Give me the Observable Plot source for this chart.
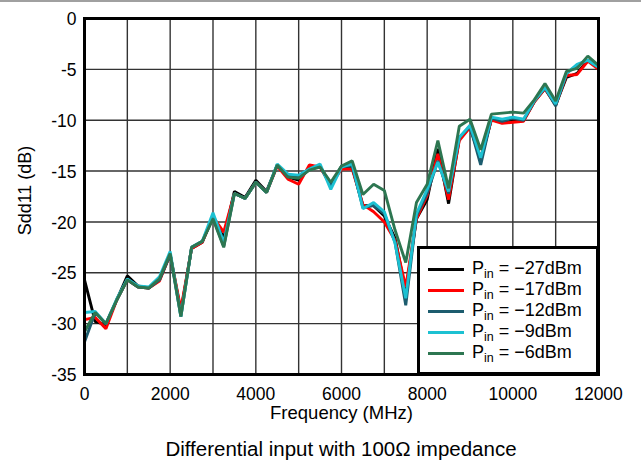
<!DOCTYPE html>
<html><head><meta charset="utf-8">
<script src="https://cdn.jsdelivr.net/npm/d3@7"></script>
<script src="https://cdn.jsdelivr.net/npm/@observablehq/plot@0.6"></script>
<style>
body{margin:0;background:#fff;font-family:"Liberation Sans",Arial,sans-serif;}
#wrap{position:relative;width:641px;height:468px;overflow:hidden;background:#fff;}
#topline{position:absolute;left:0;top:0;width:641px;height:2px;background:#a0a0a0;}
#chart{position:absolute;left:0;top:0;}
#legend{position:absolute;left:417px;top:246px;width:182px;height:129px;box-sizing:border-box;border:3px solid #000;background:#fff;}
.row{position:absolute;left:0;height:20px;}
.swatch{position:absolute;left:8px;width:36px;height:3px;}
.lab{position:absolute;left:52px;font-size:18px;line-height:18px;white-space:nowrap;color:#000;}
.lab sub{font-size:12.5px;vertical-align:-4px;line-height:0;}
#caption{position:absolute;left:84px;width:514px;top:437px;text-align:center;font-size:20.5px;color:#000;}
</style>
</head><body>
<div id="wrap">
  <div id="chart"></div>
  <div id="topline"></div>
  <div id="legend"></div>
  <div id="caption">Differential input with 100Ω impedance</div>
</div>
<script>
// Frequency points (MHz)
const freqMHz = [0,250,500,750,1000,1250,1500,1750,2000,2250,2500,2750,3000,3250,3500,3750,4000,4250,4500,4750,5000,5250,5500,5750,6000,6250,6500,6750,7000,7250,7500,7750,8000,8250,8500,8750,9000,9250,9500,9750,10000,10250,10500,10750,11000,11250,11500,11750,12000];

// Sdd11 (dB) per input power
const pin27 = [-25.7,-29.8,-30.1,-27.7,-25.3,-26.3,-26.5,-25.7,-23.2,-28.8,-22.6,-22.0,-19.4,-21.6,-17.0,-17.6,-15.9,-17.0,-14.4,-15.6,-15.9,-14.7,-14.6,-16.3,-14.6,-14.6,-18.4,-18.4,-19.4,-21.6,-26.9,-19.7,-17.8,-12.8,-18.2,-11.8,-10.7,-13.9,-9.9,-10.1,-10.1,-10.0,-8.2,-6.9,-8.5,-5.8,-5.4,-4.1,-4.9];
const pin17 = [-29.6,-29.4,-30.5,-27.7,-25.7,-26.4,-26.5,-25.8,-23.2,-28.6,-22.6,-22.0,-19.5,-21.0,-17.2,-17.7,-16.1,-17.1,-14.5,-15.8,-16.3,-14.4,-14.6,-16.4,-14.8,-14.8,-18.3,-19.0,-20.0,-21.8,-26.4,-19.7,-17.4,-13.3,-17.8,-12.0,-10.7,-13.7,-10.0,-10.3,-10.2,-10.1,-8.2,-6.9,-8.5,-5.6,-5.5,-4.2,-5.0];
const pin12 = [-31.8,-28.9,-30.0,-27.7,-25.7,-26.4,-26.5,-25.7,-23.2,-29.3,-22.5,-21.9,-19.6,-22.4,-17.2,-17.7,-16.1,-17.1,-14.4,-15.5,-15.6,-14.8,-14.5,-16.5,-14.5,-14.5,-18.6,-18.4,-19.2,-22.0,-28.2,-19.4,-17.2,-14.0,-17.2,-11.7,-10.6,-14.4,-9.8,-10.1,-9.8,-10.0,-8.1,-6.8,-8.6,-5.4,-4.6,-4.1,-4.8];
const pin9  = [-28.9,-28.8,-30.0,-27.6,-25.6,-26.3,-26.4,-25.4,-22.9,-29.3,-22.5,-21.9,-19.1,-22.0,-17.2,-17.7,-16.1,-17.1,-14.3,-15.3,-15.4,-14.8,-14.3,-16.8,-14.6,-14.3,-18.7,-18.1,-19.0,-22.1,-27.5,-19.2,-16.8,-14.1,-17.0,-11.7,-10.5,-13.7,-9.7,-9.9,-9.7,-9.9,-8.1,-6.8,-8.4,-5.4,-4.5,-4.1,-4.8];
const pin6  = [-30.8,-28.9,-30.0,-27.7,-25.7,-26.4,-26.5,-25.6,-23.1,-29.3,-22.5,-21.9,-19.7,-22.5,-17.2,-17.7,-16.1,-17.1,-14.4,-15.6,-15.7,-14.9,-14.6,-16.1,-14.5,-14.0,-17.3,-16.3,-16.9,-20.8,-24.0,-18.1,-16.3,-12.0,-16.7,-10.6,-9.9,-12.9,-9.4,-9.3,-9.2,-9.3,-8.0,-6.4,-8.1,-5.2,-4.9,-3.7,-4.6];

const seriesKeys = ["-27dBm","-17dBm","-12dBm","-9dBm","-6dBm"];
const seriesLabels = ["\u221227dBm","\u221217dBm","\u221212dBm","\u22129dBm","\u22126dBm"];
const seriesColors = ["#000000","#ff0000","#1c5c6e","#1cc1d2","#2d7651"];
const xTicks = [0,2000,4000,6000,8000,10000,12000];
const xGrid = [0,1000,2000,3000,4000,5000,6000,7000,8000,9000,10000,11000,12000];
const yTicks = [0,-5,-10,-15,-20,-25,-30,-35];

const seriesValues = [pin27, pin17, pin12, pin9, pin6];
const rows = [];
seriesValues.forEach((vals, i) => vals.forEach((v, j) => rows.push({f: freqMHz[j], v, k: seriesKeys[i]})));

const chart = Plot.plot({
  width: 641, height: 425,
  marginLeft: 84, marginRight: 43, marginTop: 18, marginBottom: 51,
  style: {fontFamily: "'Liberation Sans', Arial, sans-serif", fontSize: "17px", color: "#000", background: "transparent"},
  x: {domain: [0, 12000]},
  y: {domain: [-35, 0]},
  color: {domain: seriesKeys, range: seriesColors},
  marks: [
    Plot.gridX(xGrid, {stroke: "#333", strokeOpacity: 1, strokeWidth: 1.4}),
    Plot.gridY(yTicks, {stroke: "#333", strokeOpacity: 1, strokeWidth: 1.4}),
    Plot.lineY(rows, {x: "f", y: "v", z: "k", stroke: "k", strokeWidth: 2.9, strokeLinejoin: "miter"}),
    Plot.axisX(xTicks, {tickSize: 0, tickPadding: 13, tickFormat: d => String(d), label: null, fontSize: 17.5}),
    Plot.axisY(yTicks, {tickSize: 0, tickPadding: 8, tickFormat: d => String(d), label: null, fontSize: 17.5, dy: 1}),
    Plot.frame({stroke: "#000", strokeWidth: 3}),
    Plot.text(["Frequency (MHz)"], {frameAnchor: "bottom", dy: 39, lineAnchor: "middle", textAnchor: "middle", fontSize: 18.5, fill: "#000"}),
    Plot.text(["Sdd11 (dB)"], {frameAnchor: "left", dx: -59, dy: -6, rotate: -90, textAnchor: "middle", lineAnchor: "middle", fontSize: 18, fill: "#000"})
  ]
});
document.getElementById("chart").appendChild(chart);

// legend
const legend = document.getElementById("legend");
const rowCenters = [269, 290, 311, 332, 353];
seriesLabels.forEach((lab, i) => {
  const r = document.createElement("div");
  r.className = "row";
  r.style.top = (rowCenters[i] - 246 - 3 - 10) + "px";
  r.innerHTML = `<div class="swatch" style="top:9px;background:${seriesColors[i]}"></div><div class="lab" style="top:0px">P<sub>in</sub> = ${lab}</div>`;
  legend.appendChild(r);
});
</script>
</body></html>
